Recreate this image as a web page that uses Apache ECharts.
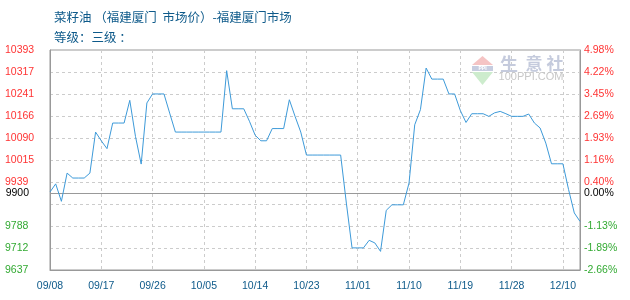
<!DOCTYPE html>
<html>
<head>
<meta charset="utf-8">
<script src="https://cdn.jsdelivr.net/npm/echarts@6/dist/echarts.min.js"></script>
<style>
html,body{margin:0;padding:0;background:#fff;}
#chart{width:630px;height:300px;}
</style>
</head>
<body>
<div id="chart"></div>
<script>
var titleText = '菜籽油 （福建厦门  市场价）-福建厦门市场';
var subTitleText = '等级：三级 ：';

var categories = [
  '09/08','09/09','09/10','09/11','09/12','09/13','09/14','09/15','09/16','09/17',
  '09/18','09/19','09/20','09/21','09/22','09/23','09/24','09/25','09/26','09/27',
  '09/28','09/29','09/30','10/01','10/02','10/03','10/04','10/05','10/06','10/07',
  '10/08','10/09','10/10','10/11','10/12','10/13','10/14','10/15','10/16','10/17',
  '10/18','10/19','10/20','10/21','10/22','10/23','10/24','10/25','10/26','10/27',
  '10/28','10/29','10/30','10/31','11/01','11/02','11/03','11/04','11/05','11/06',
  '11/07','11/08','11/09','11/10','11/11','11/12','11/13','11/14','11/15','11/16',
  '11/17','11/18','11/19','11/20','11/21','11/22','11/23','11/24','11/25','11/26',
  '11/27','11/28','12/02','12/03','12/04','12/05','12/06','12/07','12/08','12/09',
  '12/10','12/11','12/12','12/13'
];

var prices = [
  9905,9933,9873,9970,9953,9953,9953,9970,10111,10081,
  10054,10142,10142,10142,10220,10096,10001,10211,10242,10242,
  10242,10176,10111,10111,10111,10111,10111,10111,10111,10111,
  10111,10322,10191,10191,10191,10148,10100,10081,10081,10123,
  10123,10123,10222,10165,10111,10032,10032,10032,10032,10032,
  10032,10032,9867,9713,9713,9713,9739,9730,9701,9842,
  9861,9861,9861,9936,10136,10188,10331,10293,10293,10293,
  10242,10242,10185,10144,10174,10174,10174,10165,10177,10182,
  10174,10165,10165,10165,10173,10142,10125,10073,10002,10002,
  10002,9913,9833,9804
];

var basePrice = 9900;
var axisMin = 9637;
var axisMax = 10393;
var axisStep = 75.6;

var leftTickLabels = ['9637','9712','9788','','9939','10015','10090','10166','10241','10317','10393'];
var rightTickLabels = ['-2.66%','-1.89%','-1.13%','','0.40%','1.16%','1.93%','2.69%','3.45%','4.22%','4.98%'];
var baseLeftLabel = '9900';
var baseRightLabel = '0.00%';

var RED = '#ff3333', GREEN = '#33aa33', BLACK = '#000000';
var BLUE_TEXT = '#0e5a8a';
var FONT = '"Liberation Sans", Arial, sans-serif';
var CJK = '"Noto Sans CJK SC", sans-serif';

function tickIndex(v){ return Math.round((v - axisMin) / axisStep); }
function tickColor(v){
  return v > basePrice ? RED : (v < basePrice ? GREEN : BLACK);
}

var chart = echarts.init(document.getElementById('chart'), null, {renderer:'canvas'});

var option = {
  backgroundColor: '#ffffff',
  animation: false,
  title: [
    {text: titleText, left: 49, top: 6,
     textStyle: {fontSize: 12.5, fontWeight: 'normal', color: BLUE_TEXT, fontFamily: CJK}},
    {text: subTitleText, left: 49, top: 26,
     textStyle: {fontSize: 12.5, fontWeight: 'normal', color: BLUE_TEXT, fontFamily: CJK}}
  ],
  grid: {left: 50, right: 50, top: 50, bottom: 30, show: true, borderColor: '#999', borderWidth: 1, containLabel: false},
  xAxis: {
    type: 'category',
    data: categories,
    boundaryGap: false,
    axisLine: {show: true, lineStyle: {color: '#999'}},
    axisTick: {show: false, interval: 8},
    axisLabel: {interval: 8, color: BLUE_TEXT, fontSize: 10.5, fontFamily: FONT, margin: 11},
    splitLine: {show: true, interval: 8, lineStyle: {color: '#cccccc', type: [3, 3]}}
  },
  yAxis: [
    {
      type: 'value', position: 'left',
      min: axisMin, max: axisMax, interval: axisStep,
      axisLine: {show: true, lineStyle: {color: '#999'}},
      axisTick: {show: false},
      axisLabel: {
        align: 'left', margin: 45, fontSize: 10.5, fontFamily: FONT,
        formatter: function(v){ return leftTickLabels[tickIndex(v)] || ''; },
        color: function(v){ return tickColor(v); }
      },
      splitLine: {show: true, lineStyle: {color: '#cccccc', type: [3, 3]}}
    },
    {
      type: 'value', position: 'right',
      min: axisMin, max: axisMax, interval: axisStep,
      axisLine: {show: true, lineStyle: {color: '#999'}},
      axisTick: {show: false},
      axisLabel: {
        align: 'left', margin: 4, fontSize: 10.5, fontFamily: FONT,
        formatter: function(v){ return rightTickLabels[tickIndex(v)] || ''; },
        color: function(v){ return tickColor(v); }
      },
      splitLine: {show: false}
    }
  ],
  series: [{
    type: 'line',
    data: prices,
    yAxisIndex: 0,
    symbol: 'none',
    smooth: false,
    lineStyle: {color: '#3d9ad9', width: 1},
    itemStyle: {color: '#3d9ad9'},
    z: 5,
    markLine: {
      silent: true,
      symbol: 'none',
      animation: false,
      lineStyle: {color: '#999', type: 'solid', width: 1},
      data: [
        {yAxis: basePrice, label: {show: true, position: 'start', distance: 21, formatter: baseLeftLabel, color: BLACK, fontSize: 10.5, fontFamily: FONT}},
        {yAxis: basePrice, label: {show: true, position: 'end', distance: 4, formatter: baseRightLabel, color: BLACK, fontSize: 10.5, fontFamily: FONT}}
      ]
    }
  }],
  graphic: [
    {type: 'polygon', shape: {points: [[482.5,56],[472,65],[493,65]]}, style: {fill: '#f5c4c4'}, z: 1, silent: true},
    {type: 'rect', shape: {x: 472, y: 66, width: 21, height: 5}, style: {fill: '#c7cde0'}, z: 1, silent: true},
    {type: 'text', x: 482.5, y: 68.5, style: {text: 'PPI', fill: '#ffffff', font: 'bold 5px "Liberation Sans", Arial, sans-serif', align: 'center', verticalAlign: 'middle'}, z: 2, silent: true},
    {type: 'polygon', shape: {points: [[472,72],[493,72],[482.5,85]]}, style: {fill: '#cdeccd'}, z: 1, silent: true},
    {type: 'text', x: 509, y: 64, style: {text: '生', fill: '#c5cbdd', font: 'bold 18px ' + CJK, align: 'center', verticalAlign: 'middle'}, z: 1, silent: true},
    {type: 'text', x: 534, y: 64, style: {text: '意', fill: '#c5cbdd', font: 'bold 17px ' + CJK, align: 'center', verticalAlign: 'middle'}, z: 1, silent: true},
    {type: 'text', x: 555, y: 64, style: {text: '社', fill: '#c5cbdd', font: 'bold 17px ' + CJK, align: 'center', verticalAlign: 'middle'}, z: 1, silent: true},
    {type: 'text', x: 531, y: 77, style: {text: '100PPI.COM', fill: '#c8c8c8', font: '11px "Liberation Sans", Arial, sans-serif', align: 'center', verticalAlign: 'middle'}, z: 1, silent: true}
  ]
};
chart.setOption(option);
</script>
</body>
</html>
